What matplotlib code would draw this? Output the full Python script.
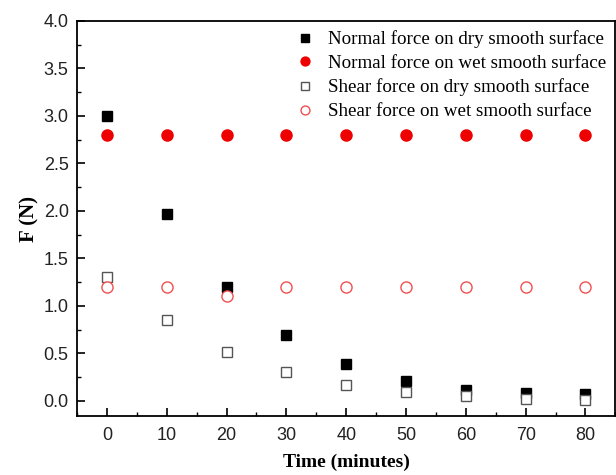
import matplotlib
matplotlib.use('Agg')
import matplotlib.pyplot as plt
from matplotlib.ticker import MultipleLocator

# data
time = [0, 10, 20, 30, 40, 50, 60, 70, 80]
normal_dry = [3.0, 1.97, 1.2, 0.69, 0.39, 0.21, 0.12, 0.08, 0.07]
normal_wet = [2.8, 2.8, 2.8, 2.8, 2.8, 2.8, 2.8, 2.8, 2.8]
shear_dry = [1.3, 0.85, 0.52, 0.3, 0.17, 0.09, 0.05, 0.02, 0.01]
shear_wet = [1.2, 1.2, 1.1, 1.2, 1.2, 1.2, 1.2, 1.2, 1.2]

fig = plt.figure(figsize=(6.16, 4.75), dpi=100)
ax = fig.add_axes([0.125, 0.124, 0.874, 0.832])

ax.plot(time, normal_dry, 's', color='black', markersize=7, linestyle='none',
        label='Normal force on dry smooth surface')
ax.plot(time, normal_wet, 'o', color='#ee0000', markersize=8, linestyle='none',
        label='Normal force on wet smooth surface')
ax.plot(time, shear_dry, 's', markerfacecolor='white', markeredgecolor='#555555',
        markeredgewidth=1.0, markersize=7, linestyle='none',
        label='Shear force on dry smooth surface')
ax.plot(time, shear_wet, 'o', markerfacecolor='white', markeredgecolor='#f05050',
        markeredgewidth=1.0, markersize=8, linestyle='none',
        label='Shear force on wet smooth surface')

ax.set_xlim(-5, 85)
ax.set_ylim(-0.16, 4.0)
ax.xaxis.set_major_locator(MultipleLocator(10))
ax.xaxis.set_minor_locator(MultipleLocator(5))
ax.yaxis.set_major_locator(MultipleLocator(0.5))
ax.yaxis.set_minor_locator(MultipleLocator(0.25))
ax.yaxis.set_major_formatter(plt.FormatStrFormatter('%.1f'))
ax.tick_params(which='both', direction='in', top=False, right=False)
ax.tick_params(which='major', length=6, width=1.2, labelsize=13, labelcolor='#222222')
ax.tick_params(axis='x', which='major', pad=8)
ax.tick_params(axis='y', which='major', pad=6)
ax.tick_params(which='minor', length=3, width=1.0)
for lab in ax.get_xticklabels() + ax.get_yticklabels():
    lab.set_family('Liberation Sans')
for s in ax.spines.values():
    s.set_linewidth(1.3)

ax.set_xlabel('Time (minutes)', family='Liberation Serif', fontweight='bold',
              fontsize=14, labelpad=7)
ax.set_ylabel('F (N)', family='Liberation Serif', fontweight='bold',
              fontsize=15, labelpad=3)

ax.legend(loc='upper right', frameon=False, prop={'family': 'Liberation Serif', 'size': 13.7},
          handletextpad=0.6, labelspacing=0.34, borderaxespad=0.1, handlelength=1.2,
          markerscale=0.8)

fig.savefig('out.png', dpi=100)
